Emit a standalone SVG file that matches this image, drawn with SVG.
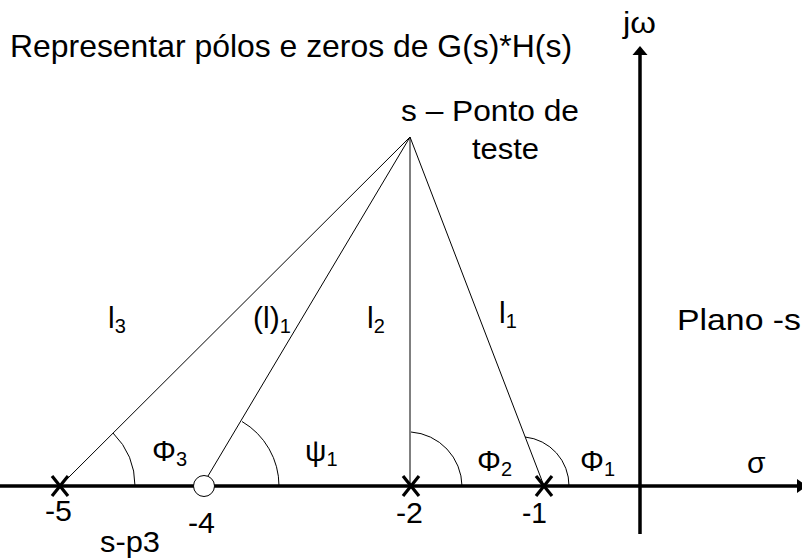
<svg xmlns="http://www.w3.org/2000/svg" width="802" height="558" viewBox="0 0 802 558">
<style>
text{font-family:"Liberation Sans",Arial,sans-serif;font-size:30px;fill:#000}
.t{font-size:32px}
.sub{font-size:20px}
.ln{stroke:#000;stroke-width:1;fill:none}
.ax{stroke:#000;stroke-width:3.5;fill:none}
.x{stroke:#000;stroke-width:3.2;fill:none}
</style>
<rect width="802" height="558" fill="#fff"/>
<g id="axes">
<line class="ax" x1="0" y1="486" x2="798" y2="486"/>
<polygon points="797,479 807,486 797,493" fill="#000"/>
<line class="ax" x1="640" y1="534" x2="640" y2="54"/>
<polygon points="632.5,55 640,46 647.5,55" fill="#000"/>
</g>
<g id="connectors">
<line class="ln" x1="410" y1="137" x2="60" y2="486"/>
<line class="ln" x1="410" y1="137" x2="208" y2="476"/>
<line class="ln" x1="410" y1="137" x2="410" y2="486"/>
<line class="ln" x1="410" y1="137" x2="544" y2="486"/>
<path class="ln" d="M113,433 A75,75 0 0 1 135,486"/>
<path class="ln" d="M242,421.5 A75,75 0 0 1 279,486"/>
<path class="ln" d="M411,432 A55,55 0 0 1 462,486"/>
<path class="ln" d="M525,437 A49,49 0 0 1 569,486"/>
</g>
<g id="p5"><path class="x" d="M52,476 L68,496 M68,476 L52,496"/><text x="45" y="521" textLength="27" lengthAdjust="spacingAndGlyphs">-5</text></g>
<g id="z4"><circle cx="204" cy="486" r="10.5" fill="#fff" stroke="#000" stroke-width="1"/><text x="188" y="533" textLength="27" lengthAdjust="spacingAndGlyphs">-4</text></g>
<g id="p2"><path class="x" d="M403,476 L419,496 M419,476 L403,496"/><text x="396" y="523" textLength="27" lengthAdjust="spacingAndGlyphs">-2</text></g>
<g id="p1"><path class="x" d="M536,476 L552,496 M552,476 L536,496"/><text x="522" y="523" textLength="25" lengthAdjust="spacingAndGlyphs">-1</text></g>
<g id="labels">
<text class="t" x="10" y="57" textLength="562" lengthAdjust="spacingAndGlyphs">Representar pólos e zeros de G(s)*H(s)</text>
<text x="623" y="33" textLength="33" lengthAdjust="spacingAndGlyphs">jω</text>
<text x="401" y="121" textLength="178" lengthAdjust="spacingAndGlyphs">s – Ponto de</text>
<text x="472" y="159" textLength="67" lengthAdjust="spacingAndGlyphs">teste</text>
<text x="108" y="328">l<tspan class="sub" dy="5">3</tspan></text>
<text x="253" y="328">(l)<tspan class="sub" dy="5">1</tspan></text>
<text x="367" y="328">l<tspan class="sub" dy="5">2</tspan></text>
<text x="499" y="323">l<tspan class="sub" dy="5">1</tspan></text>
<text x="677" y="330" textLength="124" lengthAdjust="spacingAndGlyphs">Plano -s</text>
<text x="152" y="461">Φ<tspan class="sub" dy="5">3</tspan></text>
<text x="305" y="461">ψ<tspan class="sub" dy="5">1</tspan></text>
<text x="477" y="471">Φ<tspan class="sub" dy="5">2</tspan></text>
<text x="580" y="471">Φ<tspan class="sub" dy="5">1</tspan></text>
<text x="747" y="473">σ</text>
<text x="100" y="552" textLength="60" lengthAdjust="spacingAndGlyphs">s-p3</text>
</g>
</svg>
